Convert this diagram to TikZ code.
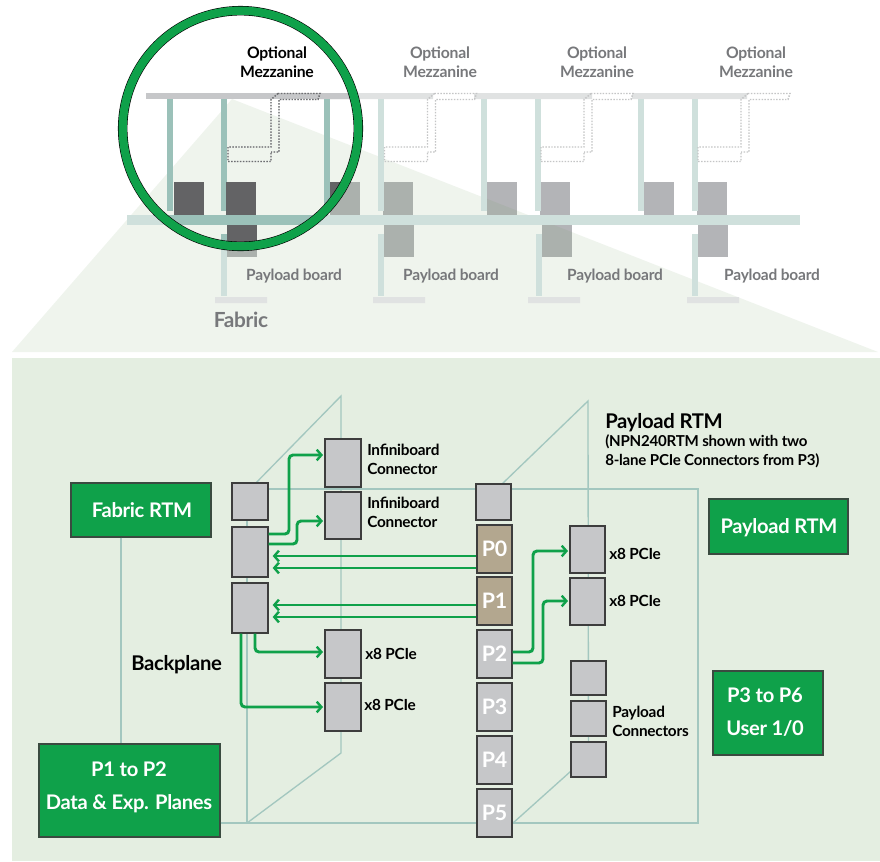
\documentclass[tikz,border=0pt]{standalone}
\usepackage{fontspec}
\setmainfont{Lato}[LetterSpace=-1.5]
\usetikzlibrary{arrows.meta,fit}
\definecolor{gfill}{HTML}{0FA14A}
\definecolor{gedge}{HTML}{3A4A40}
\definecolor{panel}{HTML}{E4EEE1}
\definecolor{plane}{HTML}{A3C7BF}
\definecolor{boxg}{HTML}{C6C7C9}
\definecolor{boxe}{HTML}{3D3D3D}
\definecolor{tanf}{HTML}{B3A78F}
\definecolor{greyt}{HTML}{77787B}
\definecolor{foot}{HTML}{E0E2E2}
\definecolor{stalkl}{HTML}{CFE0DC}
\definecolor{stalkd}{HTML}{9BC1B9}
\definecolor{blockl}{HTML}{B3B4B7}
\definecolor{blockd}{HTML}{636365}
\definecolor{dotl}{HTML}{C4C5C6}
\definecolor{dotd}{HTML}{6D6E71}
\definecolor{cone}{HTML}{699B55}
\newcommand{\topdot}[2]{%
 \draw[#2,line width=1.1pt,dash pattern=on 1.1pt off 1.1pt,xshift=#1*0.75pt]
  (278,93.5) -- (320,93.5) -- (318,99.5) -- (279,99.5) -- (279,152) -- (271,152)
  (278,93.5) -- (271,99.5) -- (271,147) -- (228,147) -- (228,161.5) -- (271,161.5) -- (271,152);}
\newcommand{\topblocks}[1]{%
 \foreach \bx in {174,226,330,383,487,540,644,697} \fill[#1] (\bx,182) rectangle (\bx+30,215);
 \foreach \bx in {227,384,542,698} \fill[#1] (\bx,225) rectangle (\bx+30,257);
}
\newcommand{\topframe}[3]{%
 % #1 first bar, #2 other bars, #3 stalks
 \fill[#1] (146,93) rectangle (320,99);
 \fill[#2] (320,93) rectangle (433,99) (474,93) rectangle (592,99) (632,93) rectangle (747,99);
 \foreach \sx in {167,221,324,378,481,535,638,692} \fill[#3] (\sx,99) rectangle (\sx+6,211);
 \fill[#3] (127,215) rectangle (800,225);
 \foreach \sx in {221,378,536,692} \fill[#3] (\sx,234) rectangle (\sx+6,296);
}
\tikzset{
 x=0.75pt,y=-0.75pt,
 conbox/.style={draw=boxe,fill=boxg,line width=1pt,inner sep=0pt},
 pbox/.style={conbox},
 tanbox/.style={pbox,fill=tanf},
 gbox/.style={draw=gedge,fill=gfill,line width=1pt,inner sep=0pt},
 gtext/.style={inner sep=0pt,text=white,align=center,font=\bfseries\fontsize{15.1}{25}\selectfont},
 planeline/.style={draw=plane,line width=1pt},
 conn/.style={draw=gfill,line width=2.2pt,rounded corners=3pt},
 tip/.style={conn,-{Straight Barb[length=3.5pt,width=8pt,line width=1.8pt]},shorten >=1pt},
 optlab/.style={align=center,inner sep=0pt,font=\bfseries\fontsize{11.8}{14.2}\selectfont},
 paylab/.style={inner sep=0pt,text=greyt,font=\bfseries\fontsize{11.6}{13}\selectfont},
 lab/.style={inner sep=0pt,anchor=west,align=left,font=\bfseries\fontsize{11.5}{14.2}\selectfont},
 biglab/.style={lab,font=\bfseries\fontsize{15.2}{17}\selectfont},
}
\begin{document}
\begin{tikzpicture}
\useasboundingbox (0,0) rectangle (880,861);
\fill[white] (0,0) rectangle (880,861);
% upper scene
\topblocks{blockl}
\fill[cone,fill opacity=0.1] (232,99) -- (878,352) -- (12,352) -- cycle;
\topframe{boxg}{foot}{stalkl}
\topdot{0}{dotl}
\foreach \d in {156.5,313,470} {\topdot{\d}{dotl}}
\fill[foot] (215,297) rectangle (267,303) (373,297) rectangle (425,303) (528,297) rectangle (580,303) (687,297) rectangle (739,303);
% magnified part
\begin{scope}
\clip (240.5,128.5) circle[radius=118];
\topframe{boxg}{boxg}{stalkd}
\topblocks{blockd}
\topdot{0}{dotd}
\end{scope}
\draw[black,line width=7.1pt] (240.5,128.5) circle[radius=117.8];
\draw[gfill,line width=6.2pt] (240.5,128.5) circle[radius=117.8];
% upper labels
\node[optlab,text=black] (m1) at (277,62.5) {Optional\\Mezzanine};
\node[optlab,text=greyt] (m2) at (440,62.5) {Optional\\Mezzanine};
\node[optlab,text=greyt] (m3) at (597,62.5) {Optional\\Mezzanine};
\node[optlab,text=greyt] (m4) at (756,62.5) {Optional\\Mezzanine};
\node[paylab] (b1) at (294,276) {Payload board};
\node[paylab] (b2) at (451,276) {Payload board};
\node[paylab] (b3) at (615,276) {Payload board};
\node[paylab] (b4) at (772,276) {Payload board};
\node[paylab,font=\bfseries\fontsize{15.6}{17}\selectfont] (fab) at (241,320) {Fabric};
% panel
\fill[panel] (12,358) rectangle (880,861);
% planes
\coordinate (bpA) at (247,489);
\coordinate (bpB) at (698,489);
\coordinate (bpC) at (698,823);
\coordinate (bpD) at (247,823);
\coordinate (lpT) at (341,396);
\coordinate (lpB) at (341,753);
\coordinate (rpT) at (588,401);
\draw[planeline] (bpA) -- (bpB) -- (bpC) -- (bpD) -- cycle;
\draw[planeline] (250,489) -- (lpT) -- (lpB) -- (bpD);
\draw[planeline] (502,484) -- (rpT) -- (588.5,775);
\draw[planeline] (513,823) -- (571,771);
% green boxes
\node[gbox,fit={(71,483)(211,537)}] (frtm) {};
\node[gtext] (frtmt) at (142,510) {Fabric RTM};
\node[gbox,fit={(39,744)(220,837)}] (dp) {};
\node[gtext] (dpt) at (129,787.5) {P1 to P2\\Data \& Exp. Planes};
\node[gbox,fit={(709,499)(848,554)}] (prtm) {};
\node[gtext] (prtmt) at (779,528) {Payload RTM};
\node[gbox,fit={(713,671)(823,755)}] (u) {};
\node[gtext] (ut) at (765,712) {P3 to P6\\User 1/0};
\draw[planeline] (frtm.south -| 121,0) -- (dp.north -| 121,0);
\draw[planeline] (dp.east |- bpD) -- (bpD);
% connector boxes
\node[conbox,fit={(232,483)(268,520)}] (l1) {};
\node[conbox,fit={(232,527)(268,577)}] (l2) {};
\node[conbox,fit={(232,583)(268,633)}] (l3) {};
\node[conbox,fit={(325,439)(361,487)}] (i1) {};
\node[conbox,fit={(325,492)(361,539)}] (i2) {};
\node[conbox,fit={(325,630)(361,678)}] (x1) {};
\node[conbox,fit={(325,683)(361,731)}] (x2) {};
\node[conbox,fit={(476,484)(511,520)}] (pt) {};
\node[tanbox,fit={(477,525)(512,573)}] (p0) {};
\node[tanbox,fit={(477,577)(512,625)}] (p1) {};
\node[pbox,fit={(477,630)(512,678)}] (p2) {};
\node[pbox,fit={(477,683)(512,731)}] (p3) {};
\node[pbox,fit={(477,736)(512,784)}] (p4) {};
\node[pbox,fit={(477,789)(512,837)}] (p5) {};
\foreach \n/\t in {p0/P0,p1/P1,p2/P2,p3/P3,p4/P4,p5/P5} \node[text=white,font=\bfseries\fontsize{16}{18}\selectfont,inner sep=0pt] (\n t) at (\n.center) {\t};
\node[conbox,fit={(570,526)(605,573)}] (r1) {};
\node[conbox,fit={(570,578)(605,625)}] (r2) {};
\node[conbox,fit={(571,661)(606,695)}] (c1) {};
\node[conbox,fit={(571,701)(606,736)}] (c2) {};
\node[conbox,fit={(571,742)(606,777)}] (c3) {};
% connectors
\draw[tip] (l2.east |- 0,534) -- (289,534) -- (289,455) -- (i1.west |- 0,455);
\draw[tip] (l2.east |- 0,544) -- (297,544) -- (297,521) -- (i2.west |- 0,521);
\foreach \s/\d/\yy in {p0/l2/556,p0/l2/568,p1/l3/605,p1/l3/617}
  \draw[tip,shorten >=3pt] (\s.west |- 0,\yy) -- (\d.east |- 0,\yy);
\draw[tip] (l3.south -| 255,0) -- (255,652) -- (x1.west |- 0,652);
\draw[tip] (l3.south -| 241,0) -- (241,707) -- (x2.west |- 0,707);
\draw[tip] (p2.east |- 0,652) -- (533,652) -- (533,551) -- (r1.west |- 0,551);
\draw[tip] (p2.east |- 0,663) -- (543,663) -- (543,601) -- (r2.west |- 0,601);
% labels
\node[lab] (t1) at (367,459.5) {Infiniboard\\Connector};
\node[lab] (t2) at (367,512.5) {Infiniboard\\Connector};
\node[lab] (t3) at (365,654) {x8 PCIe};
\node[lab] (t4) at (364,705) {x8 PCIe};
\node[lab] (t5) at (609,554) {x8 PCIe};
\node[lab] (t6) at (609,601) {x8 PCIe};
\node[lab] (t7) at (612,721.5) {Payload\\Connectors};
\node[biglab] (t8) at (131,665) {Backplane};
\node[biglab] (t9) at (605,423) {Payload RTM};
\node[lab,font=\bfseries\fontsize{11.3}{14.2}\selectfont] (t10) at (605,451.5) {(NPN240RTM shown with two\\8-lane PCIe Connectors from P3)};
\end{tikzpicture}
\end{document}
